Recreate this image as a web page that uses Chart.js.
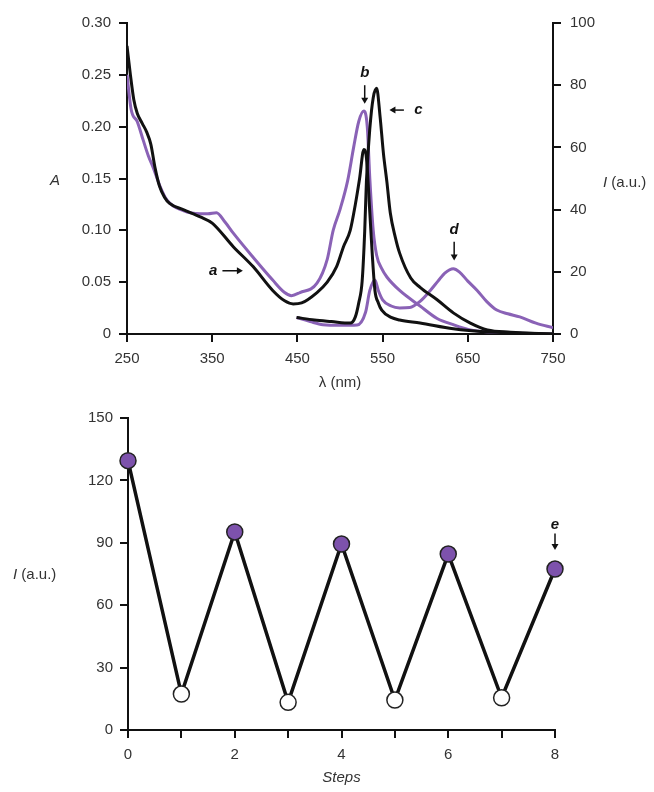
<!DOCTYPE html>
<html>
<head>
<meta charset="utf-8">
<script src="https://cdn.jsdelivr.net/npm/chart.js@4"></script>
<style>
    html, body { margin: 0; padding: 0; background: #fff; }
    .wrap { position: relative; width: 654px; height: 792px; }
    canvas { position: absolute; left: 0; }
    #spectra { top: 0; }
    #cycles { top: 395px; }
</style>
</head>
<body>

<div class="wrap">
    <canvas id="spectra" width="654" height="395"></canvas>
    <canvas id="cycles" width="654" height="397"></canvas>
</div>

<script>

// top panel: absorbance (left axis, A)
const absBlackWl = [250, 254, 258, 262, 268, 273, 278, 283, 288, 294, 300, 316, 336, 350, 375, 398, 421, 435, 445, 455, 473, 485, 496, 504, 512, 518, 523, 528, 531, 535, 538, 541, 545, 549, 560, 570, 594, 633, 673, 710, 750]
const absBlackA  = [0.278, 0.250, 0.226, 0.213, 0.203, 0.195, 0.183, 0.160, 0.143, 0.132, 0.126, 0.120, 0.113, 0.107, 0.084, 0.065, 0.042, 0.032, 0.029, 0.030, 0.040, 0.050, 0.065, 0.084, 0.100, 0.125, 0.150, 0.178, 0.170, 0.117, 0.075, 0.042, 0.030, 0.023, 0.016, 0.0135, 0.0106, 0.005, 0.002, 0.001, 0]

const absPurpleWl = [250, 255, 262, 269, 275, 281, 289, 297, 316, 336, 345, 355, 365, 375, 398, 421, 435, 443, 453, 473, 485, 492, 500, 509, 516, 522, 528, 532, 535, 539, 543, 549, 555, 570, 594, 614, 633, 653, 673, 700, 750]
const absPurpleA  = [0.250, 0.216, 0.205, 0.187, 0.172, 0.160, 0.142, 0.129, 0.119, 0.116, 0.116, 0.117, 0.108, 0.097, 0.074, 0.052, 0.040, 0.037, 0.040, 0.049, 0.072, 0.100, 0.120, 0.148, 0.180, 0.205, 0.215, 0.200, 0.150, 0.100, 0.076, 0.063, 0.055, 0.042, 0.027, 0.015, 0.009, 0.004, 0.002, 0.001, 0]

// top panel: emission (right axis, I a.u.)
const emBlackWl = [449, 470, 490, 512, 518, 522, 526, 529, 531, 535, 539, 543, 547, 551, 555, 559, 565, 570, 583, 594, 614, 633, 653, 673, 700, 750]
const emBlackI  = [5.3, 4.5, 4.0, 3.5, 5.5, 10, 17, 33, 49, 66, 76, 79, 70, 58, 49, 39, 31, 26, 18, 15, 11, 6.8, 3.5, 1.3, 0.6, 0]

const emPurpleWl = [449, 465, 480, 500, 520, 530, 535, 541, 545, 550, 560, 570, 582, 594, 606, 615, 623, 633, 640, 650, 661, 672, 684, 697, 711, 730, 750]
const emPurpleI  = [5.3, 4.0, 3.0, 2.8, 2.9, 7, 14, 17.4, 14, 11, 9, 8.4, 8.5, 10.5, 14, 17, 19.6, 21, 20, 17, 14, 10.5, 7.7, 6.5, 5.5, 3.5, 2]

const wlTicks = [250, 350, 450, 550, 650, 750]

// bottom panel: switching cycles
const steps     = [0, 1, 2, 3, 4, 5, 6, 7, 8]
const intensity = [129.5, 17.3, 95.2, 13.3, 89.4, 14.4, 84.6, 15.5, 77.4]


const PURPLE = '#8a62b6'
const DOT = '#7d52ac'
const INK = '#111'
const TEXT = '#333'
const FAMILY = '"Liberation Sans", Arial, Helvetica, sans-serif'

const zip = (xs, ys) => xs.map((x, i) => ({x: x, y: ys[i]}))

function axisStyle(extra) {
    return Object.assign({
        grid: {drawOnChartArea: false, drawTicks: true, tickLength: 8, color: INK, lineWidth: 2},
        border: {display: true, color: INK, width: 2},
        ticks: {color: TEXT, font: {family: FAMILY, size: 15}, padding: 8}
    }, extra)
}

function arrow(ctx, x1, y1, x2, y2) {
    const ang = Math.atan2(y2 - y1, x2 - x1)
    ctx.beginPath()
    ctx.moveTo(x1, y1)
    ctx.lineTo(x2 - 4 * Math.cos(ang), y2 - 4 * Math.sin(ang))
    ctx.stroke()
    ctx.beginPath()
    ctx.moveTo(x2, y2)
    ctx.lineTo(x2 - 6 * Math.cos(ang) + 3.5 * Math.sin(ang), y2 - 6 * Math.sin(ang) - 3.5 * Math.cos(ang))
    ctx.lineTo(x2 - 6 * Math.cos(ang) - 3.5 * Math.sin(ang), y2 - 6 * Math.sin(ang) + 3.5 * Math.cos(ang))
    ctx.closePath()
    ctx.fill()
}

// letter marks with arrows, given in data units of the named axes
function notesPlugin(notes, yID, extraText) {
    return {
        id: 'notes',
        afterDraw(chart) {
            const ctx = chart.ctx
            const xs = chart.scales.x, ys = chart.scales[yID]
            ctx.save()
            ctx.fillStyle = INK
            ctx.strokeStyle = INK
            ctx.lineWidth = 1.5
            ctx.textAlign = 'center'
            ctx.textBaseline = 'middle'
            ctx.font = 'italic bold 15px ' + FAMILY
            notes.forEach(n => {
                ctx.fillText(n.text, xs.getPixelForValue(n.x), ys.getPixelForValue(n.y))
                arrow(ctx, xs.getPixelForValue(n.from[0]), ys.getPixelForValue(n.from[1]),
                           xs.getPixelForValue(n.to[0]), ys.getPixelForValue(n.to[1]))
            })
            extraText(ctx, chart.chartArea)
            ctx.restore()
        }
    }
}

function axisLabelI(ctx, x, y) {
    ctx.textAlign = 'left'
    ctx.fillStyle = TEXT
    ctx.font = 'italic 15px ' + FAMILY
    ctx.fillText('I', x, y)
    const w = ctx.measureText('I ').width
    ctx.font = '15px ' + FAMILY
    ctx.fillText('(a.u.)', x + w, y)
}


const topNotes = [
    {text: 'a', x: 351, y: 0.061, from: [362, 0.061], to: [386, 0.061]},
    {text: 'b', x: 529, y: 0.252, from: [529, 0.240], to: [529, 0.222]},
    {text: 'c', x: 592, y: 0.216, from: [575, 0.216], to: [558, 0.216]},
    {text: 'd', x: 634, y: 0.100, from: [634, 0.089], to: [634, 0.071]}
]

new Chart(document.getElementById('spectra'), {
    type: 'line',
    data: {
        datasets: [
            {label: 'abs black (a)', data: zip(absBlackWl, absBlackA), yAxisID: 'yA', borderColor: INK},
            {label: 'em black (c)', data: zip(emBlackWl, emBlackI), yAxisID: 'yI', borderColor: INK},
            {label: 'abs purple (b)', data: zip(absPurpleWl, absPurpleA), yAxisID: 'yA', borderColor: PURPLE},
            {label: 'em purple (d)', data: zip(emPurpleWl, emPurpleI), yAxisID: 'yI', borderColor: PURPLE}
        ]
    },
    options: {
        responsive: false,
        animation: false,
        layout: {padding: {top: 23, left: 0, right: 0, bottom: 0}},
        plugins: {legend: {display: false}, tooltip: {enabled: false}},
        elements: {
            point: {radius: 0},
            line: {borderWidth: 3, cubicInterpolationMode: 'monotone'}
        },
        scales: {
            x: axisStyle({
                type: 'linear', min: 250, max: 750,
                afterBuildTicks: s => { s.ticks = wlTicks.map(v => ({value: v})) },
                afterFit: s => { s.height = 61 },
                title: {display: true, text: 'λ (nm)', color: TEXT, font: {family: FAMILY, size: 15}, padding: {bottom: 3}}
            }),
            yA: axisStyle({
                position: 'left', min: 0, max: 0.30,
                afterFit: s => { s.width = 127 },
                ticks: {color: TEXT, font: {family: FAMILY, size: 15}, padding: 8, stepSize: 0.05,
                        callback: v => v === 0 ? '0' : v.toFixed(2)}
            }),
            yI: axisStyle({
                position: 'right', min: 0, max: 100,
                afterFit: s => { s.width = 101 },
                ticks: {color: TEXT, font: {family: FAMILY, size: 15}, padding: 9, stepSize: 20}
            })
        }
    },
    plugins: [notesPlugin(topNotes, 'yA', (ctx, area) => {
        const mid = (area.top + area.bottom) / 2
        ctx.textAlign = 'center'
        ctx.fillStyle = TEXT
        ctx.font = 'italic 15px ' + FAMILY
        ctx.fillText('A', area.left - 72, mid + 2)
        axisLabelI(ctx, area.right + 50, mid + 4)
    })]
});


const bottomNotes = [
    {text: 'e', x: 8, y: 98.5, from: [8, 94.5], to: [8, 86.5]}
]

new Chart(document.getElementById('cycles'), {
    type: 'line',
    data: {
        labels: steps,
        datasets: [{
            label: 'I',
            data: zip(steps, intensity),
            borderColor: INK,
            borderWidth: 3.5,
            tension: 0,
            clip: false,
            pointRadius: 8,
            pointBorderWidth: 1.5,
            pointBorderColor: '#222',
            pointBackgroundColor: ctx => ctx.dataIndex % 2 ? '#fff' : DOT
        }]
    },
    options: {
        responsive: false,
        animation: false,
        layout: {padding: {top: 23, left: 0, right: 99, bottom: 0}},
        plugins: {legend: {display: false}, tooltip: {enabled: false}},
        scales: {
            x: axisStyle({
                type: 'linear', min: 0, max: 8,
                afterFit: s => { s.height = 62 },
                ticks: {color: TEXT, font: {family: FAMILY, size: 15}, padding: 8, stepSize: 1, autoSkip: false,
                        callback: v => v % 2 ? '' : String(v)},
                title: {display: true, text: 'Steps', color: TEXT, font: {family: FAMILY, size: 15, style: 'italic'}, padding: {bottom: 5}}
            }),
            y: axisStyle({
                min: 0, max: 150,
                afterFit: s => { s.width = 128 },
                ticks: {color: TEXT, font: {family: FAMILY, size: 15}, padding: 7, stepSize: 30}
            })
        }
    },
    plugins: [notesPlugin(bottomNotes, 'y', (ctx, area) => {
        axisLabelI(ctx, 13, (area.top + area.bottom) / 2 + 1)
    })]
});

</script>

</body>
</html>
